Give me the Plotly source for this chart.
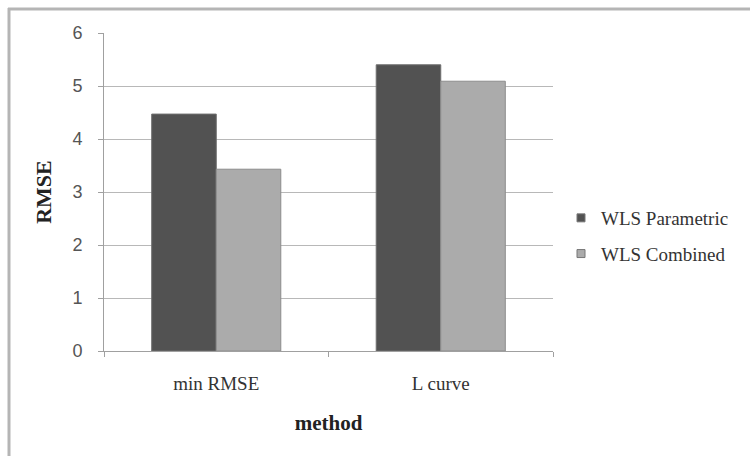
import plotly.graph_objects as go

categories = ["min RMSE", "L curve"]
wls_parametric = [4.47, 5.40]
wls_combined = [3.43, 5.09]
y_ticks = [0, 1, 2, 3, 4, 5, 6]
series_names = ["WLS Parametric", "WLS Combined"]
series_colors = ["#525252", "#ababab"]
series_edges = ["#6e6e6e", "#8c8c8c"]

W, H = 750, 456
L, R, T, B = 104, 553, 33, 351

def px_x(p):
    return (p - L) / (R - L)

def px_y(p):
    return (B - p) / (B - T)

fig = go.Figure()
for name, vals, col, edge, grp in zip(series_names, [wls_parametric, wls_combined],
                                      series_colors, series_edges, ["a", "b"]):
    fig.add_trace(go.Bar(
        name=name, x=categories, y=vals,
        marker=dict(color=col, line=dict(color=edge, width=1)),
        showlegend=False, legendgroup=grp,
    ))
    # legend proxy with a small square marker, like the reference
    fig.add_trace(go.Scatter(
        name=name, x=[None], y=[None], mode="markers",
        marker=dict(symbol="square", size=8, color=col, line=dict(color="#777777", width=1)),
        showlegend=True, legendgroup=grp,
    ))

fig.update_layout(
    width=W, height=H,
    margin=dict(l=L, r=W - R, t=T, b=H - B, pad=0),
    paper_bgcolor="white", plot_bgcolor="white",
    barmode="group", bargap=0.425, bargroupgap=0,
    showlegend=True,
    legend=dict(
        x=px_x(561), y=px_y(236), xanchor="left", yanchor="middle",
        font=dict(family="Liberation Serif", size=19, color="#333333"),
        tracegroupgap=8, itemwidth=30, bgcolor="rgba(0,0,0,0)",
    ),
    xaxis=dict(
        showline=True, linecolor="#a0a0a0", linewidth=1,
        ticks="outside", tickson="boundaries", ticklen=5, tickcolor="#a0a0a0",
        ticklabelstandoff=15,
        tickfont=dict(family="Liberation Serif", size=19, color="#333333"),
        title=dict(text="<b>method</b>", standoff=22,
                   font=dict(family="Liberation Serif", size=21, color="#222222")),
    ),
    yaxis=dict(
        range=[0, 6], tickvals=y_ticks, showgrid=True, gridcolor="#b8b8b8", gridwidth=1,
        showline=True, linecolor="#a0a0a0", linewidth=1, zeroline=False,
        ticks="outside", ticklen=5, tickcolor="#a0a0a0",
        ticklabelstandoff=12,
        tickfont=dict(family="Liberation Sans", size=18, color="#555555"),
        title=dict(text="<b>RMSE</b>", standoff=14,
                   font=dict(family="Liberation Serif", size=22, color="#222222")),
    ),
    shapes=[
        dict(type="line", xref="paper", yref="paper",
             x0=px_x(8), x1=px_x(752), y0=px_y(9), y1=px_y(9),
             line=dict(color="#b5b5b5", width=3)),
        dict(type="line", xref="paper", yref="paper",
             x0=px_x(9), x1=px_x(9), y0=px_y(8), y1=px_y(460),
             line=dict(color="#b5b5b5", width=3)),
    ],
)

fig.write_html("out.html")
